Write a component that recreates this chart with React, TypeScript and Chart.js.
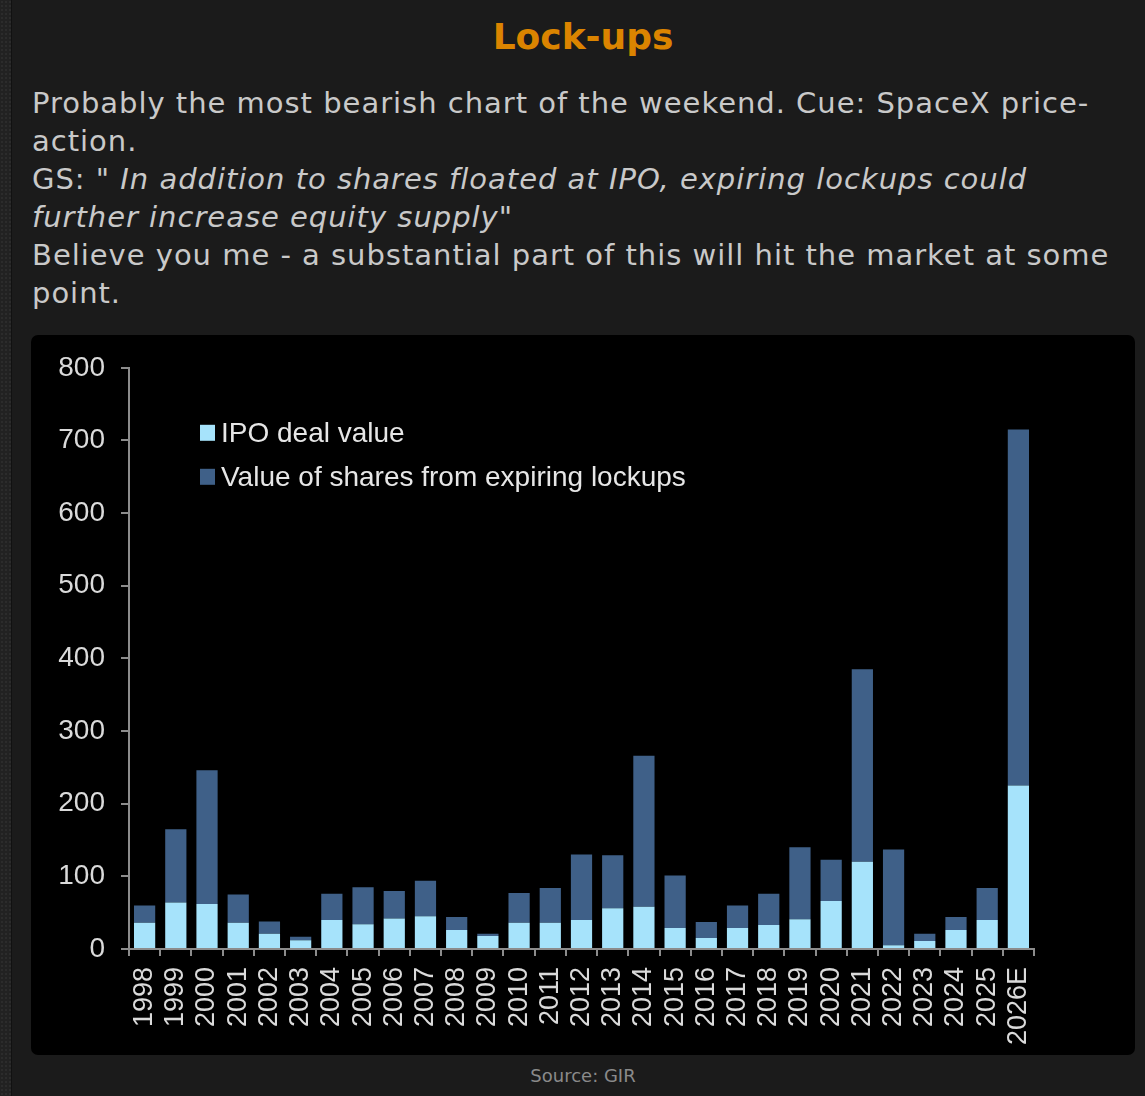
import React, { useEffect, useRef } from "react";
import { Chart, registerables } from "chart.js";

Chart.register(...registerables);

const years = [
  "1998", "1999", "2000", "2001", "2002", "2003", "2004", "2005", "2006", "2007",
  "2008", "2009", "2010", "2011", "2012", "2013", "2014", "2015", "2016", "2017",
  "2018", "2019", "2020", "2021", "2022", "2023", "2024", "2025", "2026E",
];

const ipoDealValue = [
  36, 64, 62, 36, 21, 12, 40, 34, 42, 45,
  26, 18, 36, 36, 40, 56, 58, 29, 15, 29,
  33, 41, 66, 120, 5, 11, 26, 40, 225,
];

const lockupValue = [
  24, 101, 184, 39, 17, 5, 36, 51, 38, 49,
  18, 3, 41, 48, 90, 73, 208, 72, 22, 31,
  43, 99, 57, 265, 132, 10, 18, 44, 490,
];

const seriesLabels = ["IPO deal value", "Value of shares from expiring lockups"];
const yMin = 0;
const yMax = 800;
const yStep = 100;

const LIGHT = "#a6e3fb";
const DARK = "#3f6088";
const AXIS = "#8c8c8c";
const TICK_TEXT = "#dadada";
const CHART_FONT = "'Liberation Sans', Arial, Helvetica, sans-serif";
const PAGE_FONT = "'DejaVu Sans', Verdana, sans-serif";

const insideLegend = {
  id: "insideLegend",
  afterDraw(chart: any) {
    const { ctx, chartArea } = chart;
    ctx.save();
    ctx.font = `28px ${CHART_FONT}`;
    ctx.textBaseline = "middle";
    ctx.textAlign = "left";
    chart.data.datasets.forEach((ds: any, i: number) => {
      const x = chartArea.left + 71;
      const y = chartArea.top + 65 + i * 44;
      ctx.fillStyle = ds.backgroundColor;
      ctx.fillRect(x, y - 8, 15, 16);
      ctx.fillStyle = "#e6e6e6";
      ctx.fillText(ds.label, x + 21, y + 1);
    });
    ctx.restore();
  },
};

function LockupChart() {
  const ref = useRef<HTMLCanvasElement | null>(null);
  useEffect(() => {
    if (!ref.current) return;
    const chart = new Chart(ref.current, {
      type: "bar",
      data: {
        labels: years,
        datasets: [
          {
            label: seriesLabels[0],
            data: ipoDealValue,
            backgroundColor: LIGHT,
            borderWidth: 0,
            barPercentage: 0.68,
            categoryPercentage: 1,
          },
          {
            label: seriesLabels[1],
            data: lockupValue,
            backgroundColor: DARK,
            borderWidth: 0,
            barPercentage: 0.68,
            categoryPercentage: 1,
          },
        ],
      },
      options: {
        animation: false,
        responsive: true,
        maintainAspectRatio: false,
        layout: { padding: { top: 28, right: 101, left: 0, bottom: 0 } },
        plugins: {
          legend: { display: false },
          tooltip: { enabled: false },
        },
        scales: {
          x: {
            stacked: true,
            offset: true,
            afterFit(scale: any) {
              scale.height = 106;
            },
            border: { display: true, color: AXIS, width: 2 },
            grid: {
              display: true,
              offset: true,
              drawOnChartArea: false,
              drawTicks: true,
              tickLength: 7,
              color: AXIS,
              lineWidth: 2,
            },
            ticks: {
              autoSkip: false,
              minRotation: 90,
              maxRotation: 90,
              padding: 11,
              color: TICK_TEXT,
              font: { family: CHART_FONT, size: 27 },
            },
          },
          y: {
            stacked: true,
            min: yMin,
            max: yMax,
            afterFit(scale: any) {
              scale.width = 98;
            },
            border: { display: true, color: AXIS, width: 2 },
            grid: {
              display: true,
              drawOnChartArea: false,
              drawTicks: true,
              tickLength: 8,
              color: AXIS,
              lineWidth: 2,
            },
            ticks: {
              stepSize: yStep,
              padding: 16,
              color: TICK_TEXT,
              font: { family: CHART_FONT, size: 28 },
            },
          },
        },
      },
      plugins: [insideLegend],
    });
    return () => chart.destroy();
  }, []);
  return <canvas ref={ref} />;
}

export default function App() {
  const lineStyle: React.CSSProperties = {
    position: "absolute",
    left: 32,
    height: 38,
    lineHeight: "38px",
    whiteSpace: "nowrap",
    fontSize: 29,
    letterSpacing: "0.98px",
    color: "#c9c9c9",
    fontFamily: PAGE_FONT,
  };
  return (
    <div
      style={{
        position: "absolute",
        left: 0,
        top: 0,
        width: 1145,
        height: 1096,
        background: "#1b1b1b",
        overflow: "hidden",
        fontFamily: PAGE_FONT,
      }}
    >
      <div
        style={{
          position: "absolute",
          left: 0,
          top: 0,
          width: 11,
          height: 1096,
          backgroundColor: "#222",
          backgroundImage: "radial-gradient(#2c2c2c 1px, transparent 1px)",
          backgroundSize: "4px 4px",
          borderRight: "1px solid #111",
        }}
      />
      <div
        style={{
          position: "absolute",
          left: 31,
          top: 14,
          width: 1104,
          textAlign: "center",
          fontSize: 36,
          fontWeight: 700,
          color: "#db8400",
          lineHeight: "46px",
        }}
      >
        Lock-ups
      </div>
      <div style={{ ...lineStyle, top: 84 }}>
        Probably the most bearish chart of the weekend. Cue: SpaceX price-
      </div>
      <div style={{ ...lineStyle, top: 122 }}>action.</div>
      <div style={{ ...lineStyle, top: 160 }}>
        GS: <i>" In addition to shares floated at IPO, expiring lockups could</i>
      </div>
      <div style={{ ...lineStyle, top: 198 }}>
        <i>further increase equity supply"</i>
      </div>
      <div style={{ ...lineStyle, top: 236 }}>
        Believe you me - a substantial part of this will hit the market at some
      </div>
      <div style={{ ...lineStyle, top: 274 }}>point.</div>
      <div
        style={{
          position: "absolute",
          left: 31,
          top: 335,
          width: 1104,
          height: 720,
          background: "#000",
          borderRadius: 7,
          overflow: "hidden",
        }}
      >
        <LockupChart />
      </div>
      <div
        style={{
          position: "absolute",
          left: 31,
          top: 1064,
          width: 1104,
          textAlign: "center",
          fontSize: 18,
          color: "#8a8a8a",
          lineHeight: "24px",
        }}
      >
        Source: GIR
      </div>
    </div>
  );
}
